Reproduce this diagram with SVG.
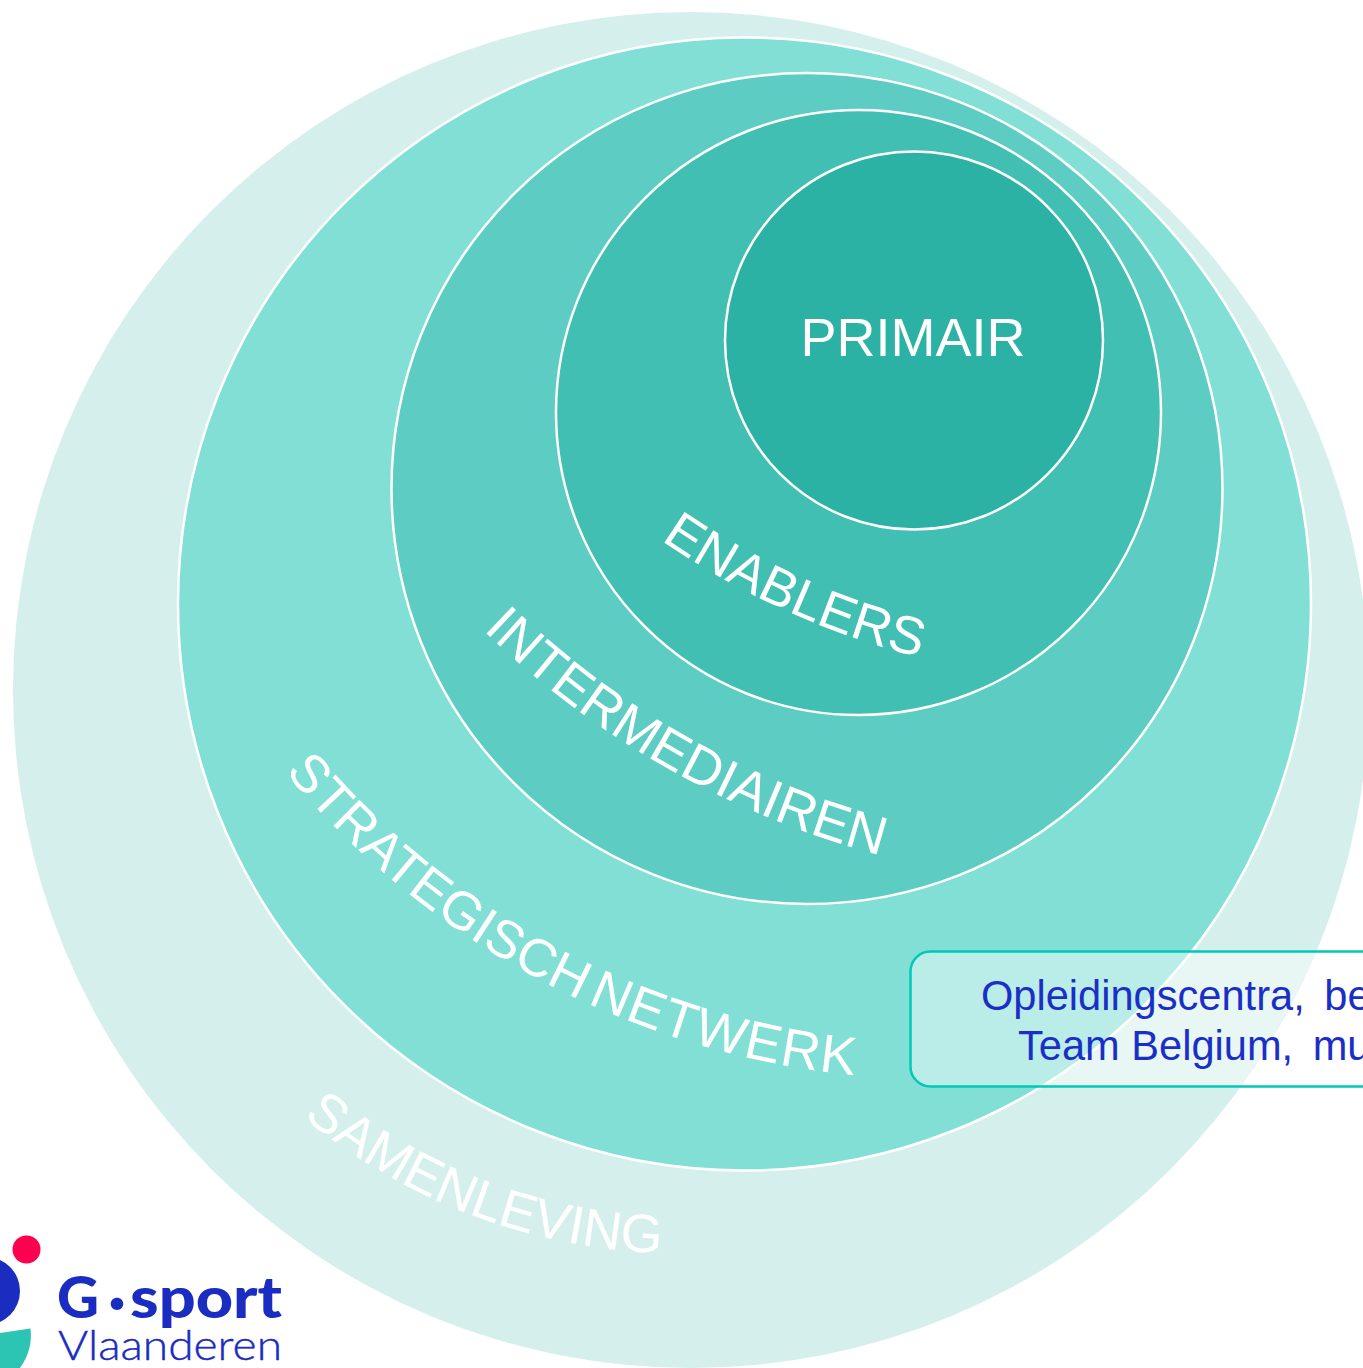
<svg xmlns="http://www.w3.org/2000/svg" width="1363" height="1368" viewBox="0 0 1363 1368">
<style>
.ring{stroke:#fff;stroke-width:2.500}
.lbl{font-family:"Liberation Sans",Arial,sans-serif;font-size:54px;fill:#fff}
.box{font-family:"Liberation Sans",Arial,sans-serif;font-size:41.600px;fill:#1b2fc6}
.logo{font-family:Lato,"Open Sans",sans-serif;fill:#1b2cc1}
</style>
<defs>
<path id="p-sam" d="M303 1117A592 592 0 0 0 664 1253"/>
<path id="p-str" d="M285 772A850 850 0 0 0 862 1076"/>
<path id="p-int" d="M483 630A900 900 0 0 0 880 855"/>
<path id="p-ena" d="M661 540A800 800 0 0 0 930 660"/>
</defs>
<rect width="1363" height="1368" fill="#fff"/>
<g id="samenleving"><circle cx="691" cy="690" r="678" fill="#d5f0ec"/><text class="lbl"><textPath href="#p-sam">SAMENLEVING</textPath></text></g>
<g id="strategisch-netwerk"><circle class="ring" cx="744.500" cy="604" r="566.500" fill="#81dfd6"/><text class="lbl"><textPath href="#p-str"><tspan style="font-size:53.300px">STRATEGISCH</tspan><tspan style="font-size:30px"> </tspan><tspan letter-spacing="1.300">NETWERK</tspan></textPath></text></g>
<g id="intermediairen"><circle class="ring" cx="807" cy="488.500" r="415.500" fill="#5dcdc3"/><text class="lbl"><textPath href="#p-int">INTERMEDIAIREN</textPath></text></g>
<g id="enablers"><circle class="ring" cx="858.500" cy="412.500" r="302.500" fill="#41bfb2"/><text class="lbl" style="font-size:53.500px"><textPath href="#p-ena">ENABLERS</textPath></text></g>
<g id="primair"><circle class="ring" cx="914" cy="340.500" r="189" fill="#2bb2a5"/><text class="lbl" x="913" y="356" text-anchor="middle">PRIMAIR</text></g>
<g id="opleidingscentra">
<rect x="910.500" y="951.500" width="480" height="135" rx="20" fill="#fff" fill-opacity=".45" stroke="#00c9b7" stroke-width="2.500"/>
<text class="box" x="981" y="1010">Opleidingscentra, <tspan dx="8">be</tspan></text>
<text class="box" x="1018" y="1060">Team Belgium, <tspan dx="8">mu</tspan></text>
</g>
<g id="logo">
<circle cx="-14" cy="1291" r="34" fill="#1b2cc1"/>
<circle cx="26.500" cy="1249.500" r="14" fill="#ff0050"/>
<path d="M0 1333L30.500 1328.500Q33 1350 20 1368L0 1368Z" fill="#2cc5b3"/>
<text class="logo" y="1318" font-size="58" font-weight="900"><tspan x="57">G</tspan><tspan x="105" y="1327" style="font-family:Inter,sans-serif" font-weight="800" font-size="68">·</tspan><tspan x="130" y="1318" textLength="152" lengthAdjust="spacingAndGlyphs">sport</tspan></text>
<text class="logo" x="58" y="1360" font-size="41" font-weight="300" stroke="#1b2cc1" stroke-width=".4" textLength="224" lengthAdjust="spacingAndGlyphs">Vlaanderen</text>
</g>
</svg>
